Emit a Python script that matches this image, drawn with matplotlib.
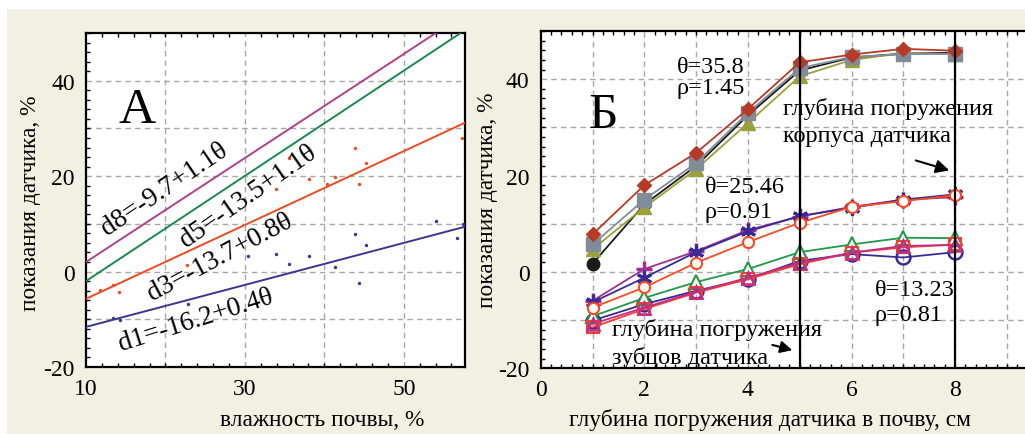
import matplotlib
matplotlib.use("Agg")
import matplotlib.pyplot as plt
from matplotlib.ticker import MultipleLocator, FixedLocator
from matplotlib.patches import Rectangle

plt.rcParams['font.family'] = ['Liberation Serif', 'DejaVu Serif']
plt.rcParams['axes.unicode_minus'] = False

# ---------------- Panel A data ----------------
fit_x = [10, 57.7]
fit_d8 = [2.0, 54.0]
fit_d5 = [-2.0, 50.6]
fit_d3 = [-5.7, 31.2]
fit_d1 = [-11.6, 9.4]

red_pts_x = [11.8, 13.4, 14.1, 22.7, 22.9, 33.9, 35.5, 38.1, 40.3, 41.3, 43.8, 44.3, 45.2, 57.3]
red_pts_y = [-3.8, -2.8, -4.3, 1.3, -0.8, 17.4, 23.8, 19.5, 18.4, 19.8, 25.8, 18.3, 22.8, 27.9]
blue_pts_x = [13.4, 14.3, 22.9, 30.4, 33.9, 35.6, 38.1, 41.3, 43.8, 44.3, 45.2, 54.1, 56.7, 57.4]
blue_pts_y = [-9.8, -10.2, -6.7, 3.3, 3.6, 1.5, 3.2, 1.0, 7.8, -2.4, 5.5, 10.7, 7.1, 10.0]

eq_labels = ["d8=-9.7+1.1θ", "d5=-13.5+1.1θ", "d3=-13.7+0.8θ", "d1=-16.2+0.4θ"]

# ---------------- Panel B data ----------------
depth = [1, 2, 3, 4, 5, 6, 7, 8]
# group theta=35.8
g1_black = [1.7, 14.0, 22.0, 32.5, 41.8, 44.5, 45.3, 45.5]
g1_red = [7.8, 18.0, 24.7, 33.8, 43.5, 45.1, 46.3, 45.9]
g1_gray = [5.7, 15.0, 22.6, 33.0, 42.3, 44.6, 45.2, 45.3]
g1_olive = [4.7, 13.4, 21.3, 30.9, 40.6, 44.0, 45.4, 45.2]
# group theta=25.46
g2_purple = [-6.0, 0.6, 4.3, 8.7, 11.5, 13.5, 15.0, 15.5]
g2_blue = [-6.3, -1.2, 4.1, 8.4, 11.6, 13.3, 15.0, 16.1]
g2_orange = [-7.4, -3.2, 1.9, 6.2, 10.2, 13.5, 14.7, 15.9]
# group theta=13.23
g3_green = [-9.2, -5.4, -2.1, 0.6, 4.1, 5.7, 7.1, 7.0]
g3_blue = [-10.1, -6.7, -3.9, -1.5, 2.3, 3.7, 3.0, 4.1]
g3_magenta = [-10.8, -7.4, -4.1, -1.2, 1.9, 4.0, 5.4, 5.6]
g3_red = [-11.5, -7.7, -4.3, -1.5, 1.6, 4.0, 5.1, 5.7]

BG = '#f2f0e3'
fig = plt.figure(figsize=(10.25, 4.35), dpi=100, facecolor='white')
fig.patches.append(Rectangle((7 / 1025, 0), 1, 1 - 10 / 435, transform=fig.transFigure,
                             facecolor=BG, edgecolor='none', zorder=-10))

grid_kw = dict(color='#a8a8a8', linestyle=(0, (4, 3)), linewidth=1.0)
TICK_FS = 17
LABEL_FS = 16.8
NOTE_FS = 17.5


def style_axes(ax):
    for s in ax.spines.values():
        s.set_linewidth(1.6)
        s.set_color('black')
    ax.tick_params(which='both', direction='in', top=True, right=False, colors='black')
    ax.tick_params(which='major', length=0, labelsize=TICK_FS, pad=8)
    ax.tick_params(which='minor', length=3, width=1)
    ax.set_facecolor('white')


# ---------------- Panel A ----------------
axA = fig.add_axes([86 / 1025, 1 - 368 / 435, (465 - 86) / 1025, (368 - 34) / 435])
style_axes(axA)
axA.set_xlim(10, 57.7)
axA.set_ylim(-20, 50)
axA.xaxis.set_major_locator(FixedLocator([10, 30, 50]))
axA.yaxis.set_major_locator(FixedLocator([-20, 0, 20, 40]))
axA.xaxis.set_minor_locator(MultipleLocator(2))
axA.yaxis.set_minor_locator(MultipleLocator(2))
for gx in [20, 30, 40, 50]:
    axA.axvline(gx, zorder=0, **grid_kw)
for gy in [-10, 0, 10, 20, 30, 40]:
    axA.axhline(gy, zorder=0, **grid_kw)

axA.plot(fit_x, fit_d8, color='#b0408f', lw=1.4, zorder=3)
axA.plot(fit_x, fit_d5, color='#1a8a4a', lw=1.4, zorder=3)
axA.plot(fit_x, fit_d3, color='#f04a20', lw=1.4, zorder=3)
axA.plot(fit_x, fit_d1, color='#3b3595', lw=1.4, zorder=3)
axA.scatter(red_pts_x, red_pts_y, s=6, color='#f04a20', zorder=4, linewidths=0)
axA.scatter(blue_pts_x, blue_pts_y, s=6, color='#3b3595', zorder=4, linewidths=0)

eq_pos = [(19.9, 17.4, 34), (30.4, 15.9, 35), (26.9, 3.1, 28), (23.8, -10.0, 17.5)]
for lab, (x, y, r) in zip(eq_labels, eq_pos):
    axA.text(x, y, lab, rotation=r, rotation_mode='anchor', ha='center', va='center',
             fontsize=19.5, zorder=5)
axA.text(16.4, 34, 'А', fontsize=37, ha='center', va='center')

fig.text(31 / 1025, 1 - 203 / 435, 'показания датчика, %', rotation=90,
         ha='center', va='center', fontsize=LABEL_FS)
fig.text(322 / 1025, 1 - 421 / 435, 'влажность почвы, %', ha='center', va='center',
         fontsize=LABEL_FS)

# ---------------- Panel B ----------------
axB = fig.add_axes([540.7 / 1025, 1 - 369.3 / 435, (1025 - 540.7) / 1025, (369.3 - 32) / 435])
style_axes(axB)
axB.spines['right'].set_visible(False)
axB.set_xlim(0, (1025 - 540.7) / 51.8)
axB.set_ylim(-20, 50)
axB.xaxis.set_major_locator(FixedLocator([0, 2, 4, 6, 8]))
axB.yaxis.set_major_locator(FixedLocator([-20, 0, 20, 40]))
axB.xaxis.set_minor_locator(MultipleLocator(0.2))
axB.yaxis.set_minor_locator(MultipleLocator(2))
for gx in range(1, 10):
    axB.axvline(gx, zorder=0, **grid_kw)
for gy in [-10, 0, 10, 20, 30, 40]:
    axB.axhline(gy, zorder=0, **grid_kw)

axB.axvline(5, color='black', lw=1.6, zorder=6)
axB.axvline(8, color='black', lw=1.6, zorder=6)

lw = 1.3
axB.plot(depth, g1_black, color='#1a1a1a', lw=lw, marker='o', ms=9, mfc='#1a1a1a', zorder=2)
axB.plot(depth, g1_olive, color='#9aa03a', lw=lw, marker='^', ms=10, mfc='#9aa03a', mec='#9aa03a', zorder=3)
axB.plot(depth, g1_gray, color='#7f8d99', lw=lw, marker='s', ms=10, mfc='#7f8d99', mec='#7f8d99', zorder=3)
axB.plot(depth, g1_red, color='#b83a26', lw=lw, marker='D', ms=7, mfc='#b83a26', mec='#b83a26', zorder=4)

axB.plot(depth, g2_purple, color='#a03090', lw=lw, marker='+', ms=11, mew=2.5, zorder=3)
axB.plot(depth, g2_blue, color='#3a2a95', lw=lw, marker=(6, 2, 0), ms=11, mew=2.2, zorder=3)
axB.plot(depth, g2_orange, color='#ff4a20', lw=lw, marker='o', ms=8, mfc='white', mew=1.5, zorder=4)

axB.plot(depth, g3_blue, color='#3a2a95', lw=lw, marker='o', ms=10, mfc='none', mew=1.8, zorder=3)
axB.plot(depth, g3_green, color='#1e9a48', lw=lw, marker='^', ms=10, mfc='white', mew=1.5, zorder=3)
axB.plot(depth, g3_red, color='#ff3a30', lw=lw, marker='s', ms=9, mfc='none', mew=1.5, zorder=3)
axB.plot(depth, g3_magenta, color='#c03080', lw=lw, marker='^', ms=8, mfc='none', mew=1.8, zorder=4)

axB.text(1.2, 32.6, 'Б', fontsize=37, ha='center', va='center')
axB.text(2.63, 42.6, 'θ=35.8', fontsize=NOTE_FS, ha='left', va='center')
axB.text(2.63, 38.2, 'ρ=1.45', fontsize=NOTE_FS, ha='left', va='center')
axB.text(3.17, 17.8, 'θ=25.46', fontsize=NOTE_FS, ha='left', va='center')
axB.text(3.17, 12.6, 'ρ=0.91', fontsize=NOTE_FS, ha='left', va='center')
axB.text(6.45, -3.6, 'θ=13.23', fontsize=NOTE_FS, ha='left', va='center')
axB.text(6.45, -8.8, 'ρ=0.81', fontsize=NOTE_FS, ha='left', va='center')

axB.text(4.68, 34.1, 'глубина погружения', fontsize=NOTE_FS, ha='left', va='center', zorder=7)
axB.text(4.68, 28.3, 'корпуса датчика', fontsize=NOTE_FS, ha='left', va='center', zorder=7)
axB.annotate('', xy=(7.94, 20.9), xytext=(7.19, 23.3),
             arrowprops=dict(arrowstyle='-|>', color='black', lw=1.5, mutation_scale=20))
axB.text(1.38, -11.9, 'глубина погружения', fontsize=NOTE_FS, ha='left', va='center', zorder=7)
axB.text(1.38, -17.7, 'зубцов датчика', fontsize=NOTE_FS, ha='left', va='center', zorder=7)
axB.annotate('', xy=(4.91, -16.4), xytext=(4.42, -15.0),
             arrowprops=dict(arrowstyle='-|>', color='black', lw=1.5, mutation_scale=18))

fig.text(488 / 1025, 1 - 200 / 435, 'показания датчика, %', rotation=90,
         ha='center', va='center', fontsize=LABEL_FS)
fig.text(770 / 1025, 1 - 420 / 435, 'глубина погружения датчика в почву, см',
         ha='center', va='center', fontsize=LABEL_FS)

fig.savefig('out.png', dpi=100, facecolor='white')
